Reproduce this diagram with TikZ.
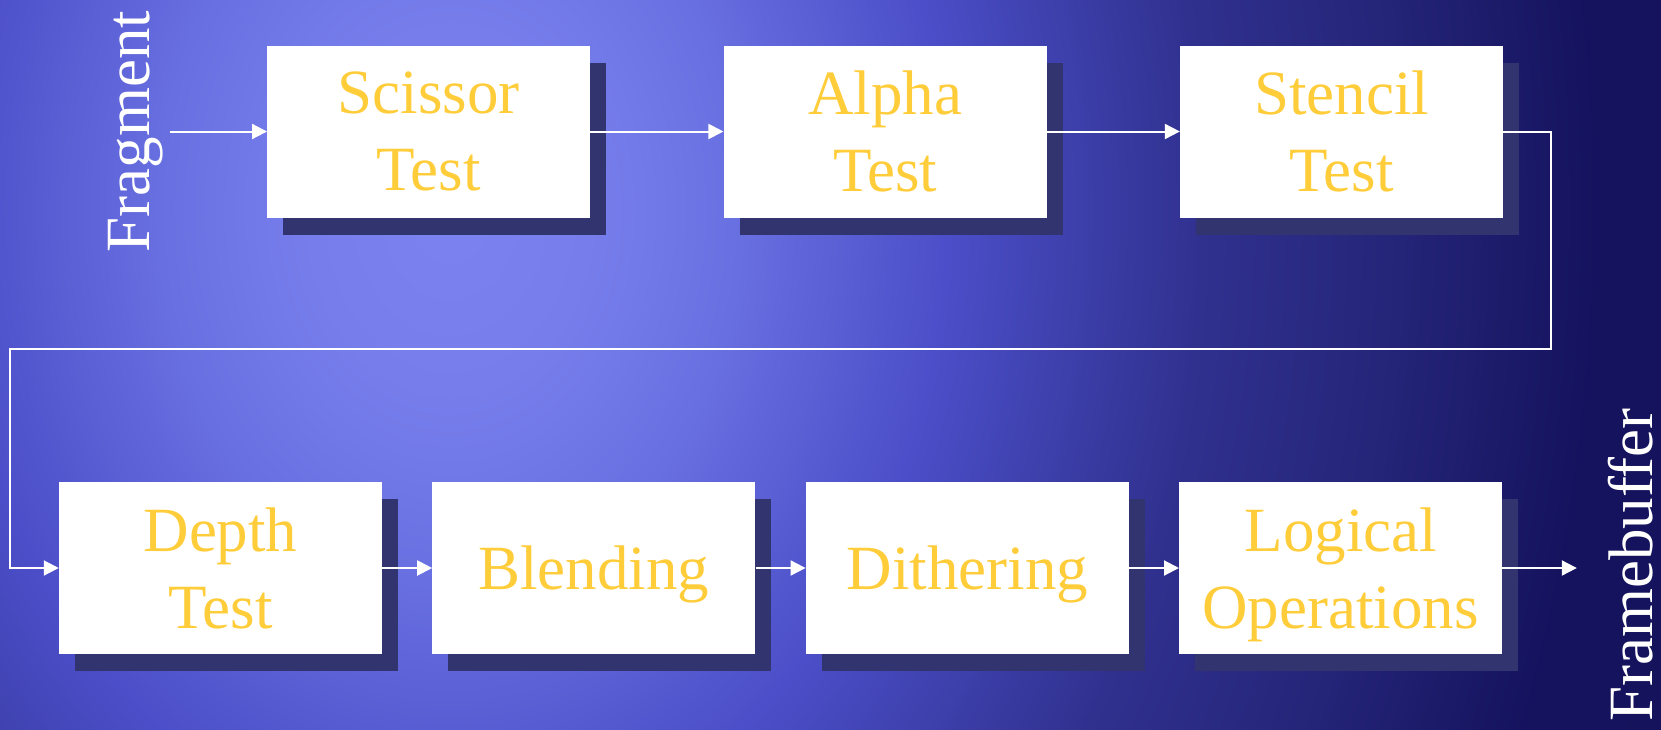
\documentclass[tikz,border=0pt]{standalone}
\usepackage{fontspec}
\setmainfont{Liberation Serif}
\usepackage{tikz}
\usetikzlibrary{arrows.meta}
\usetikzlibrary{positioning}
\usetikzlibrary{shadows}

\definecolor{stagegold}{HTML}{FFCC3A}
\definecolor{shadowblue}{HTML}{31346E}
\definecolor{bgnavy}{HTML}{14125A}
\definecolor{glowa}{HTML}{7C83F0}
\definecolor{glowb}{HTML}{777EEC}
\definecolor{glowc}{HTML}{686FE0}
\definecolor{glowd}{HTML}{4B4EC8}
\definecolor{glowe}{HTML}{30318F}
\definecolor{glowf}{HTML}{242478}
\definecolor{glowg}{HTML}{15135E}
\pgfdeclareradialshading{bgglow}{\pgfpointorigin}{%
  color(0bp)=(glowa); color(2.5bp)=(glowb); color(5.2bp)=(glowc);
  color(8.9bp)=(glowd); color(13.4bp)=(glowe); color(17bp)=(glowf);
  color(20.5bp)=(glowg); color(25bp)=(bgnavy); color(50bp)=(bgnavy)}

\begin{document}
\begin{tikzpicture}[
                x=1pt, y=-1pt,
                stage/.style={fill=white, minimum width=323pt, minimum height=172pt,
                        inner sep=0pt, align=center, text=stagegold, text depth=0pt,
                        font=\fontsize{63}{77}\selectfont,
                        drop shadow={shadow xshift=16pt, shadow yshift=-17pt,
                                fill=shadowblue, opacity=1}},
                side_label/.style={rotate=90, text=white, inner sep=6pt,
                        font=\fontsize{63}{77}\selectfont},
                arrow/.style={-{Triangle[length=15pt, width=15pt]}, white, line width=2pt},
            ]

            \useasboundingbox (0,0) rectangle (1661,729);
            \begin{scope}
                \clip (0,0) rectangle (1661,729);
                \fill[bgnavy] (0,0) rectangle (1661,729);
                \shade[shading=bgglow] (450,210) ellipse (1400 and 1800);
            \end{scope}

            \node[stage] (scissor_test) at (428.75,131.5) {Scissor\\Test};
            \node[stage, right=133pt of scissor_test] (alpha_test) {Alpha\\Test};
            \node[stage, right=133pt of alpha_test] (stencil_test) {Stencil\\Test};

            \node[stage] (depth_test) at (220.5,568) {Depth\\Test};
            \node[stage, right=50pt of depth_test] (blending) {Blending};
            \node[stage, right=50pt of blending] (dithering) {Dithering};
            \node[stage, right=50pt of dithering] (logic_ops) {Logical\\Operations};

            \node[side_label] (fragment) at (136,131.5) {Fragment};
            \node[side_label] (framebuffer) at (1630.5,565) {Framebuffer};

            \coordinate (turn_right) at (1551,349);
            \coordinate (turn_left) at (10,349);

            \draw[arrow] (fragment.south) -- (scissor_test);
            \draw[arrow] (scissor_test) -- (alpha_test);
            \draw[arrow] (alpha_test) -- (stencil_test);
            \draw[arrow] (stencil_test.east) -| (turn_right) -- (turn_left) |- (depth_test.west);
            \draw[arrow] (depth_test) -- (blending);
            \draw[arrow] (blending) -- (dithering);
            \draw[arrow] (dithering) -- (logic_ops);
            \draw[arrow, shorten >=25pt] (logic_ops) -- (framebuffer.north |- logic_ops);
        \end{tikzpicture}
\end{document}
